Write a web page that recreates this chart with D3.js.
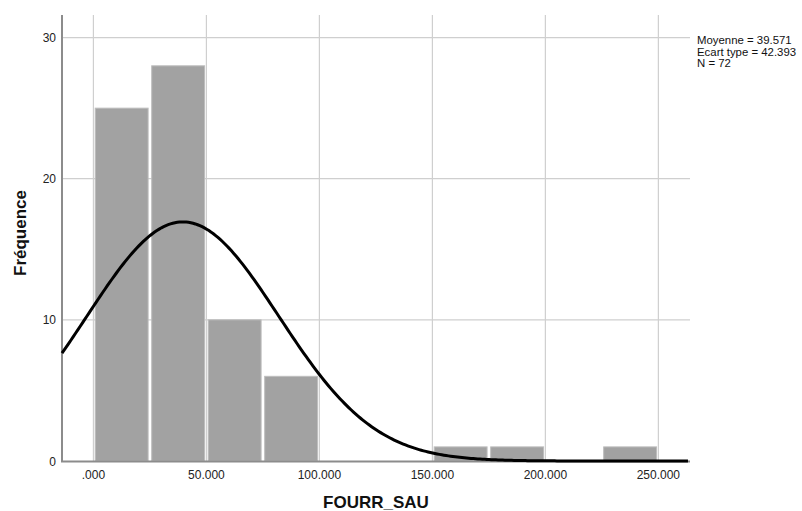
<!DOCTYPE html>
<html><head><meta charset="utf-8">
<script src="https://cdn.jsdelivr.net/npm/d3@7"></script>
<style>body{margin:0;background:#fff;}svg{display:block;font-family:"Liberation Sans",Arial,sans-serif;}</style>
</head><body><svg id="c" width="802" height="511"></svg>
<script>
const binStarts = [0, 25, 50, 75, 150, 175, 225];
const binWidth = 25;
const counts = [25, 28, 10, 6, 1, 1, 1];
const xTicks = [0, 50, 100, 150, 200, 250];
const xTickLabels = [".000", "50.000", "100.000", "150.000", "200.000", "250.000"];
const yTicks = [0, 10, 20, 30];
const mean = 39.571, sd = 42.393, n = 72;
const statsLines = ["Moyenne = 39.571", "Ecart type = 42.393", "N = 72"];

const svg = d3.select("#c");
const x = d3.scaleLinear().domain([-13.9, 264]).range([62, 690]);
const y = d3.scaleLinear().domain([0, 31.6]).range([461, 15]);

// gridlines
svg.append("g").selectAll("line").data(xTicks).join("line")
  .attr("x1", d => x(d)).attr("x2", d => x(d)).attr("y1", 15).attr("y2", 461)
  .attr("stroke", "#cfcfcf").attr("stroke-width", 1.2);
svg.append("g").selectAll("line").data(yTicks.filter(d => d > 0)).join("line")
  .attr("x1", 62).attr("x2", 690).attr("y1", d => y(d)).attr("y2", d => y(d))
  .attr("stroke", "#cfcfcf").attr("stroke-width", 1.2);

// bars
svg.append("g").selectAll("rect").data(binStarts).join("rect")
  .attr("x", d => x(d) + 1.8)
  .attr("width", d => x(d + binWidth) - x(d) - 3.6)
  .attr("y", (d, i) => y(counts[i]))
  .attr("height", (d, i) => y(0) - y(counts[i]))
  .attr("fill", "#a2a2a2").attr("stroke", "#bdbdbd").attr("stroke-width", 1);

// axes lines
svg.append("line").attr("x1", 62).attr("x2", 62).attr("y1", 15).attr("y2", 462)
  .attr("stroke", "#8c8c8c").attr("stroke-width", 2);
svg.append("line").attr("x1", 61).attr("x2", 690).attr("y1", 461.5).attr("y2", 461.5)
  .attr("stroke", "#8c8c8c").attr("stroke-width", 2);

// normal curve from displayed statistics
const xs = d3.range(-13.9, 264.01, 1);
const dens = v => n * binWidth / (sd * Math.sqrt(2 * Math.PI)) * Math.exp(-0.5 * ((v - mean) / sd) ** 2);
svg.append("path").datum(xs)
  .attr("d", d3.line().x(d => x(d)).y(d => y(dens(d))))
  .attr("fill", "none").attr("stroke", "#000").attr("stroke-width", 3);

// tick labels
svg.append("g").selectAll("text").data(xTicks).join("text")
  .attr("x", d => x(d)).attr("y", 479).attr("text-anchor", "middle")
  .attr("font-size", 12).attr("fill", "#222").text((d, i) => xTickLabels[i]);
svg.append("g").selectAll("text").data(yTicks).join("text")
  .attr("x", 56).attr("y", d => y(d) + 4.5).attr("text-anchor", "end")
  .attr("font-size", 12).attr("fill", "#222").text(d => d);

// axis titles
svg.append("text").attr("x", 376).attr("y", 508).attr("text-anchor", "middle")
  .attr("font-size", 17).attr("font-weight", "bold").attr("fill", "#111").text("FOURR_SAU");
svg.append("text").attr("transform", "translate(26,233) rotate(-90)").attr("text-anchor", "middle")
  .attr("font-size", 17).attr("font-weight", "bold").attr("fill", "#111").text("Fréquence");

// stats
svg.append("g").selectAll("text").data(statsLines).join("text")
  .attr("x", 697).attr("y", (d, i) => 44 + i * 11.5)
  .attr("font-size", "11.4px").attr("fill", "#111").text(d => d);
</script></body></html>
